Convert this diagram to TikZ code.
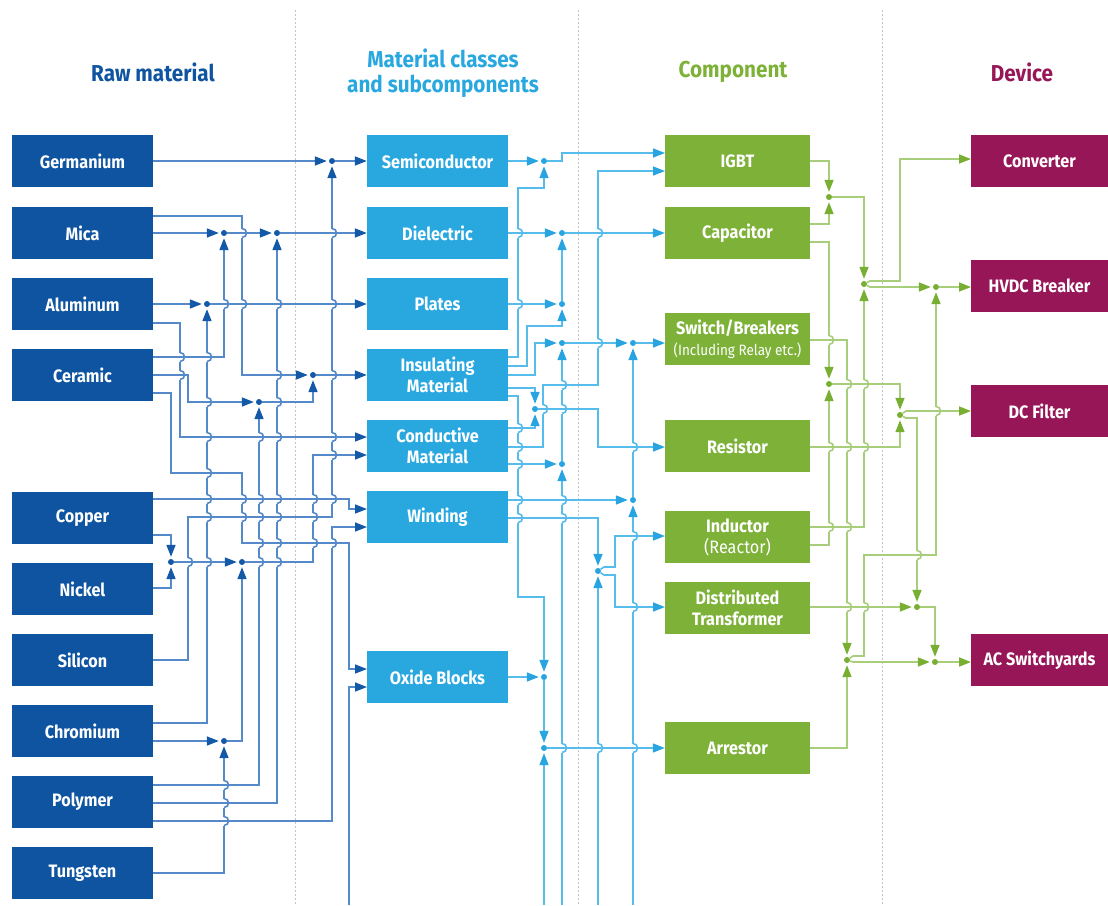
\documentclass[tikz,border=0pt]{standalone}
\usepackage{fontspec}
\setmainfont{Fira Sans}[FakeStretch=0.9]
\usetikzlibrary{arrows.meta}
\definecolor{rawc}{RGB}{14,84,160}
\definecolor{midc}{RGB}{41,168,224}
\definecolor{comc}{RGB}{125,177,55}
\definecolor{devc}{RGB}{150,22,88}
\definecolor{wB}{RGB}{84,138,202}
\definecolor{aB}{RGB}{20,88,168}
\definecolor{wL}{RGB}{86,188,236}
\definecolor{aL}{RGB}{40,165,225}
\definecolor{wG}{RGB}{168,206,124}
\definecolor{aG}{RGB}{120,175,50}
\definecolor{divc}{RGB}{195,195,195}
\newcommand{\hopc}[3]{%
  \fill[white] (#1-1.7,#2-4.5) rectangle (#1+1.7,#2+4.5);
  \draw[line width=1.6pt,#3] (#1-2.5,#2) -- (#1+2.5,#2);
  \draw[line width=1.6pt,#3] (#1,#2-4.5) .. controls (#1+6,#2-4.5) and (#1+6,#2+4.5) .. (#1,#2+4.5);
}
\tikzset{
  lbl/.style={text=white, font=\bfseries\fontsize{18}{21}\selectfont, align=center, inner sep=0pt},
  rawbox/.style={lbl, fill=rawc, minimum width=141pt, minimum height=52pt},
  midbox/.style={lbl, fill=midc, minimum width=141pt, minimum height=52pt},
  combox/.style={lbl, fill=comc, minimum width=145pt, minimum height=52pt},
  devbox/.style={lbl, fill=devc, minimum width=137pt, minimum height=52pt},
  wb/.style={draw=wB, line width=1.6pt},
  wl/.style={draw=wL, line width=1.6pt},
  wg/.style={draw=wG, line width=1.6pt},
  ab/.style={-{Triangle[length=12pt,width=9pt,color=aB]}},
  al/.style={-{Triangle[length=12pt,width=9pt,color=aL]}},
  ag/.style={-{Triangle[length=12pt,width=9pt,color=aG]}},
  abd/.style={ab, shorten >=2pt},
  ald/.style={al, shorten >=2pt},
  agd/.style={ag, shorten >=2pt},
  db/.style={circle, fill=aB, inner sep=0pt, minimum size=6pt},
  dl/.style={circle, fill=aL, inner sep=0pt, minimum size=6pt},
  dg/.style={circle, fill=aG, inner sep=0pt, minimum size=6pt},
  hdr/.style={font=\bfseries\fontsize{23}{25}\selectfont, align=center},
  divider/.style={draw=divc, line width=1pt, dash pattern=on 1.5pt off 2.5pt}
}
\begin{document}
\begin{tikzpicture}[x=1pt,y=-1pt]
\useasboundingbox (0,0) rectangle (1108,905);
\fill[white] (0,0) rectangle (1108,905);
% dividers
\draw[divider] (295,10) -- (295,905);
\draw[divider] (578,10) -- (578,905);
\draw[divider] (882,10) -- (882,905);
% headers
\node[hdr, text=rawc] (h1) at (153,72) {Raw material};
\node[hdr, text=midc] (h2) at (443,73) {Material classes\\and subcomponents};
\node[hdr, text=comc] (h3) at (733,72) {Component};
\node[hdr, text=devc] (h4) at (1022,72) {Device};
% raw boxes
\node[rawbox] (Ger) at (82.5,161) {Germanium};
\node[rawbox] (Mica) at (82.5,233) {Mica};
\node[rawbox] (Alu) at (82.5,304) {Aluminum};
\node[rawbox] (Cer) at (82.5,375) {Ceramic};
\node[rawbox] (Cop) at (82.5,518) {Copper};
\node[rawbox] (Nic) at (82.5,589) {Nickel};
\node[rawbox] (Sil) at (82.5,660) {Silicon};
\node[rawbox] (Chr) at (82.5,731) {Chromium};
\node[rawbox] (Pol) at (82.5,802) {Polymer};
\node[rawbox] (Tun) at (82.5,873) {Tungsten};
% middle boxes
\node[midbox] (Semi) at (437.5,161) {Semiconductor};
\node[midbox] (Diel) at (437.5,233) {Dielectric};
\node[midbox] (Plat) at (437.5,304) {Plates};
\node[midbox] (Ins) at (437.5,375) {Insulating\\Material};
\node[midbox] (Con) at (437.5,446) {Conductive\\Material};
\node[midbox] (Win) at (437.5,517) {Winding};
\node[midbox] (Oxi) at (437.5,677) {Oxide Blocks};
% component boxes
\node[combox] (IGBT) at (737.5,161) {IGBT};
\node[combox] (Cap) at (737.5,233) {Capacitor};
\node[combox] (Swi) at (737.5,339) {Switch/Breakers\\{\mdseries\fontsize{15}{17}\selectfont (Including Relay etc.)}};
\node[combox] (Res) at (737.5,446) {Resistor};
\node[combox] (Ind) at (737.5,537) {Inductor\\{\mdseries (Reactor)}};
\node[combox] (Tra) at (737.5,608) {Distributed\\Transformer};
\node[combox] (Arr) at (737.5,748) {Arrestor};
% device boxes
\node[devbox] (Conv) at (1039.5,161) {Converter};
\node[devbox] (HVDC) at (1039.5,286) {HVDC Breaker};
\node[devbox] (DCF) at (1039.5,411) {DC Filter};
\node[devbox] (ACS) at (1039.5,660) {AC Switchyards};

% ---------- left dots ----------
\node[db] (G) at (332,161) {};
\node[db] (M1) at (224,233) {};
\node[db] (M2) at (277,233) {};
\node[db] (A) at (207,304) {};
\node[db] (MI) at (313,375) {};
\node[db] (CP) at (259,402) {};
\node[db] (N1) at (171,562) {};
\node[db] (N2) at (242,562) {};
\node[db] (Ch) at (224,741) {};
% ---------- left wires ----------
\draw[wb,abd] (Ger.east) -- (G);
\draw[wb,ab] (G) -- (Semi.west);
\draw[wb,abd] (Mica.east) -- (M1);
\draw[wb,abd] (M1) -- (M2);
\draw[wb,ab] (M2) -- (Diel.west);
\draw[wb,abd] (153,216) -- (242,216) -- (242,375) -- (MI);
\draw[wb,ab] (MI) -- (Ins.west);
\draw[wb,abd] (Alu.east) -- (A);
\draw[wb,ab] (A) -- (Plat.west);
\draw[wb,ab] (153,323) -- (180,323) -- (180,437) -- (367,437);
\draw[wb,abd] (153,357) -- (224,357) -- (M1);
\draw[wb,abd] (153,375) -- (188,375) -- (188,402) -- (CP);
\draw[wb,abd] (CP) -- (313,402) -- (MI);
\draw[wb,ab] (153,393) -- (171,393) -- (171,473) -- (242,473) -- (242,543) -- (349,543) -- (349,669) -- (367,669);
\draw[wb,ab] (153,499) -- (349,499) -- (349,509) -- (367,509);
\draw[wb,abd] (153,535) -- (171,535) -- (N1);
\draw[wb,abd] (153,588) -- (171,588) -- (N1);
\draw[wb,abd] (N1) -- (N2);
\draw[wb,ab] (N2) -- (313,562) -- (313,455) -- (367,455);
\draw[wb,abd] (Sil.east) -- (188,660) -- (188,517) -- (332,517) -- (G);
\draw[wb,abd] (153,723) -- (207,723) -- (A);
\draw[wb,abd] (153,741) -- (Ch);
\draw[wb,abd] (Ch) -- (242,741) -- (N2);
\draw[wb,abd] (Tun.east) -- (224,873) -- (Ch);
\draw[wb,abd] (153,785) -- (259,785) -- (CP);
\draw[wb,abd] (153,803) -- (277,803) -- (M2);
\draw[wb,ab] (153,821) -- (332,821) -- (332,527) -- (367,527);
\draw[wb,ab] (349,905) -- (349,687) -- (367,687);
\foreach \hx/\hy in {180/357,180/375,
  207/357,207/402,207/437,207/473,207/499,207/517,207/562,
  224/304,224/785,224/803,224/821,
  242/233,242/304,242/499,242/517,
  259/437,259/499,259/517,259/543,259/562,
  277/304,277/375,277/402,277/437,277/499,277/517,277/543,277/562,
  313/499,313/517,313/543,
  332/233,332/304,332/375,332/437,332/455,332/499,332/543,
  188/562}
  {\hopc{\hx}{\hy}{wB}}

% ---------- middle dots ----------
\node[dl] (S) at (544,161) {};
\node[dl] (D) at (562,233) {};
\node[dl] (P) at (562,304) {};
\node[dl] (W) at (562,343) {};
\node[dl] (SW) at (633,343) {};
\node[dl] (R) at (535,409) {};
\node[dl] (C) at (562,464) {};
\node[dl] (Wd) at (633,500) {};
\node[dl] (T) at (598,571) {};
\node[dl] (O) at (544,677) {};
\node[dl] (Ar) at (544,748) {};
% ---------- middle wires ----------
\draw[wl,ald] (Semi.east) -- (S);
\draw[wl,al] (S) -- (562,161) -- (562,153) -- (665,153);
\draw[wl,ald] (508,357) -- (518,357) -- (518,188) -- (544,188) -- (S);
\draw[wl,ald] (Diel.east) -- (D);
\draw[wl,al] (D) -- (Cap.west);
\draw[wl,ald] (Plat.east) -- (P);
\draw[wl,ald] (P) -- (D);
\draw[wl,ald] (508,366) -- (527,366) -- (527,326) -- (562,326) -- (P);
\draw[wl,ald] (508,375) -- (535,375) -- (535,343) -- (W);
\draw[wl,ald] (W) -- (SW);
\draw[wl,al] (SW) -- (665,343);
\draw[wl,ald] (508,388) -- (535,388) -- (R);
\draw[wl,ald] (508,396) -- (518,396) -- (518,597) -- (544,597) -- (O);
\draw[wl,ald] (508,428) -- (535,428) -- (R);
\draw[wl,al] (508,447) -- (543,447) -- (543,385) -- (598,385) -- (598,171) -- (665,171);
\draw[wl,ald] (508,464) -- (C);
\draw[wl,ald] (C) -- (W);
\draw[wl,ald] (562,905) -- (C);
\draw[wl,al] (R) -- (598,409) -- (598,447) -- (665,447);
\draw[wl,ald] (508,500) -- (Wd);
\draw[wl,ald] (Wd) -- (SW);
\draw[wl,ald] (633,905) -- (Wd);
\draw[wl,ald] (508,518) -- (598,518) -- (T);
\draw[wl,ald] (598,905) -- (T);
\draw[wl,al] (T) -- (604,567) -- (615,567) -- (615,536) -- (665,536);
\draw[wl,al] (T) -- (604,575) -- (615,575) -- (615,607) -- (665,607);
\draw[wl,ald] (Oxi.east) -- (O);
\draw[wl,ald] (O) -- (Ar);
\draw[wl,ald] (544,905) -- (Ar);
\draw[wl,al] (Ar) -- (Arr.west);
\foreach \hx/\hy in {518/233,518/304,518/428,518/447,518/464,518/500,518/518,
  543/409,562/385,562/409,562/500,562/518,562/748,
  598/233,598/343,598/748,633/447,633/536,633/607,633/748}
  {\hopc{\hx}{\hy}{wL}}

% ---------- green dots ----------
\node[dg] (GI) at (829,197) {};
\node[dg] (GC) at (864,284) {};
\node[dg] (GH) at (936,287) {};
\node[dg] (GD) at (829,384) {};
\node[dg] (GF) at (900,415) {};
\node[dg] (GT) at (917,607) {};
\node[dg] (GA) at (847,660) {};
\node[dg] (GS) at (935,662) {};
% ---------- green wires ----------
\draw[wg,agd] (IGBT.east) -- (829,161) -- (GI);
\draw[wg,agd] (810,224) -- (829,224) -- (GI);
\draw[wg,agd] (GI) -- (864,197) -- (GC);
\draw[wg,agd] (810,527) -- (864,527) -- (GC);
\draw[wg,ag] (GC) -- (870,281) -- (900,281) -- (900,159) -- (971,159);
\draw[wg,agd] (GC) -- (870,287) -- (GH);
\draw[wg,ag] (GH) -- (971,287);
\draw[wg,agd] (810,242) -- (829,242) -- (GD);
\draw[wg,agd] (810,545) -- (829,545) -- (GD);
\draw[wg,agd] (GD) -- (900,384) -- (GF);
\draw[wg,agd] (810,447) -- (900,447) -- (GF);
\draw[wg,ag] (GF) -- (906,411) -- (971,411);
\draw[wg,agd] (GF) -- (906,418) -- (917,418) -- (GT);
\draw[wg,agd] (810,340) -- (847,340) -- (GA);
\draw[wg,agd] (810,607) -- (GT);
\draw[wg,agd] (GT) -- (935,607) -- (GS);
\draw[wg,agd] (810,748) -- (847,748) -- (GA);
\draw[wg,agd] (GA) -- (853,662) -- (GS);
\draw[wg,ag] (GS) -- (971,662);
\draw[wg,agd] (GA) -- (853,656) -- (864,656) -- (864,555) -- (936,555) -- (GH);
\foreach \hx/\hy in {829/340,829/447,829/527,847/384,847/447,847/527,847/607,
  864/384,864/447,864/607,917/555,936/411}
  {\hopc{\hx}{\hy}{wG}}
\end{tikzpicture}
\end{document}
